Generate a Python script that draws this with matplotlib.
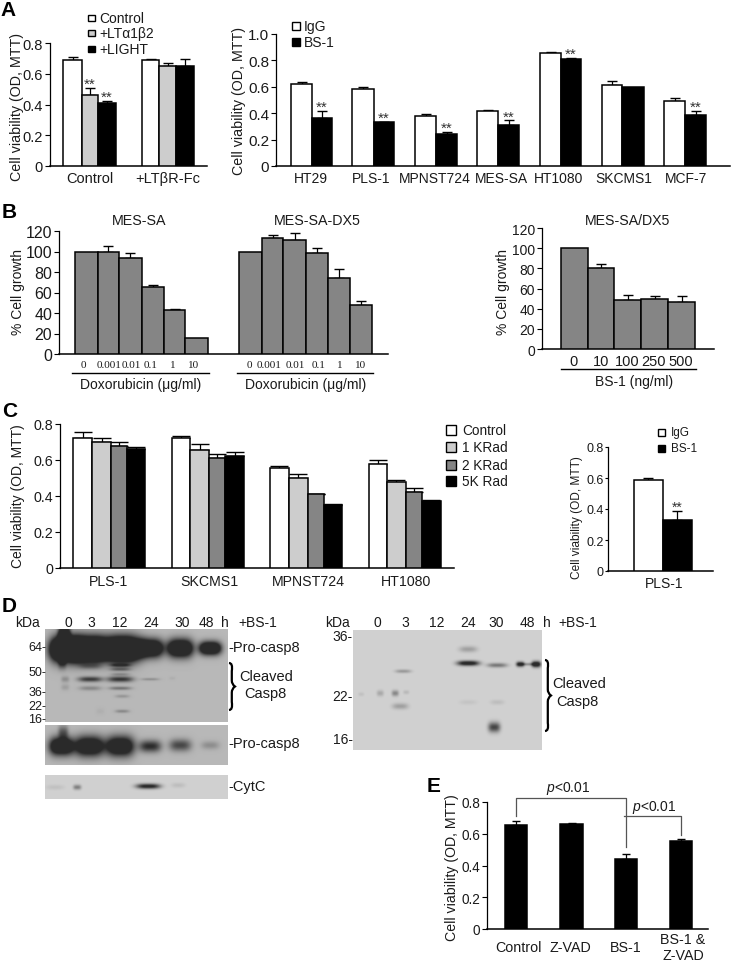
import numpy as np
import matplotlib
matplotlib.use('Agg')
import matplotlib.pyplot as plt
from matplotlib.path import Path
from matplotlib.patches import PathPatch

plt.rcParams['font.family'] = ['Liberation Sans', 'DejaVu Sans']
plt.rcParams['mathtext.fontset'] = 'custom'
plt.rcParams['mathtext.it'] = 'Liberation Sans:italic'
plt.rcParams['mathtext.rm'] = 'Liberation Sans'

W, H = 733, 962
WHITE, LIGHT, MID, BLACK = '#ffffff', '#cdcdcd', '#858585', '#000000'
TXT = '#1a1a1a'

# Panel A, left
a1_groups = ['Control', '+LT\u03b2R-Fc']
a1_values = [0.69, 0.46, 0.41, 0.69, 0.65, 0.65]
a1_err = [0.02, 0.05, 0.01, 0.005, 0.02, 0.045]
a1_stars = [False, True, True, False, False, False]
a1_legend = ['Control', '+LT\u03b11\u03b22', '+LIGHT']

# Panel A, right
a2_groups = ['HT29', 'PLS-1', 'MPNST724', 'MES-SA', 'HT1080', 'SKCMS1', 'MCF-7']
a2_igg = [0.62, 0.585, 0.38, 0.415, 0.855, 0.61, 0.495]
a2_igg_err = [0.02, 0.015, 0.015, 0.01, 0.005, 0.035, 0.02]
a2_bs1 = [0.365, 0.33, 0.24, 0.31, 0.81, 0.595, 0.39]
a2_bs1_err = [0.05, 0.005, 0.015, 0.035, 0.005, 0.0, 0.025]
a2_stars = [True, True, True, True, True, False, True]

# Panel B
b_doses = ['0', '0.001', '0.01', '0.1', '1', '10']
b1_values = [100, 100, 93.5, 65, 43, 16]
b1_err = [0, 5, 5.5, 2.5, 1, 0]
b2_values = [100, 113.5, 111, 99, 74, 48]
b2_err = [0, 2.5, 7.5, 4, 9, 4]
b3_doses = ['0', '10', '100', '250', '500']
b3_values = [100, 80, 48.5, 49.5, 46.5]
b3_err = [0, 4, 5.5, 3.5, 6.5]

# Panel C
c1_groups = ['PLS-1', 'SKCMS1', 'MPNST724', 'HT1080']
c1_values = [0.72, 0.70, 0.68, 0.66,
             0.72, 0.655, 0.61, 0.625,
             0.555, 0.50, 0.41, 0.35,
             0.58, 0.48, 0.42, 0.37]
c1_err = [0.035, 0.025, 0.02, 0.01,
          0.015, 0.035, 0.025, 0.02,
          0.01, 0.025, 0.002, 0.005,
          0.02, 0.01, 0.025, 0.01]
c1_legend = ['Control', '1 KRad', '2 KRad', '5K Rad']
c2_values = [0.585, 0.33]
c2_err = [0.015, 0.055]

# Panel E
e_labels = ['Control', 'Z-VAD', 'BS-1', 'BS-1 &\nZ-VAD']
e_values = [0.655, 0.66, 0.44, 0.555]
e_err = [0.025, 0.005, 0.035, 0.015]

# Blot bands: x, y, half width, half height, darkness
blot1_bands = [(65, 650, 15, 12, 3.0), (90, 650, 16, 12, 3.0), (122, 650, 18, 12, 3.0),
               (150, 649, 13, 9, 2.0), (180, 649, 13, 9, 2.0), (210, 649, 11, 6.5, 2.0),
               (64, 634, 6, 9, 1.3), (62, 664, 4, 6, 0.5), (90, 667, 11, 3, 0.35),
               (120, 666, 10, 1.7, 0.65), (120, 670, 10, 1.7, 0.5), (65, 680, 4, 3, 0.3),
               (90, 680, 12, 2.6, 0.9), (120, 680, 13, 2.8, 0.95), (120, 675, 9, 1.4, 0.3),
               (150, 680, 9, 1.3, 0.3), (172, 679, 3, 1.5, 0.07), (65, 688, 4, 3, 0.18),
               (90, 689, 11, 2.2, 0.35), (120, 689, 11, 1.7, 0.5), (122, 697, 7, 1.6, 0.25),
               (122, 712, 7, 1.6, 0.35), (100, 712, 4, 3, 0.06)]
blot2_bands = [(61, 747, 12, 9, 1.8), (89, 747, 15, 10, 1.7), (120, 747, 14, 10, 1.7),
               (150, 747, 11, 6, 1.0), (180, 746, 11, 6, 0.8), (210, 746, 9, 4, 0.3),
               (63, 733, 5, 7, 0.6)]
blot3_bands = [(148, 787, 12, 2.5, 1.1), (77, 788, 4, 2.5, 0.5), (55, 788, 9, 2.5, 0.1),
               (178, 786, 7, 2.5, 0.12)]
blot4_bands = [(468, 664, 11, 2.5, 1.2), (468, 650, 9, 3, 0.3), (497, 666, 10, 2.2, 0.55),
               (520, 665, 4, 2.5, 1.1), (536, 665, 4.5, 3, 1.3), (528, 665, 9, 1.4, 0.4),
               (403, 672, 8, 1.8, 0.35), (380, 694, 3.5, 3, 0.25), (395, 694, 3.5, 3, 0.45),
               (406, 693, 3, 2, 0.15), (400, 707, 8, 3, 0.3), (361, 695, 3, 2, 0.1),
               (494, 728, 6, 5, 0.85), (468, 703, 9, 2.5, 0.08), (497, 703, 7, 2.5, 0.12)]

fig = plt.figure(figsize=(W / 100, H / 100), dpi=100)
over = fig.add_axes([0, 0, 1, 1], zorder=5)
over.set_xlim(0, W)
over.set_ylim(H, 0)
over.axis('off')
over.patch.set_alpha(0)


def text(x, y, s, size=9.5, ha='center', va='center', **kw):
    kw.setdefault('color', TXT)
    over.text(x, y, s, fontsize=size, ha=ha, va=va, **kw)


def panel(x0, x1, y_zero, y_top, ymax, yticks, size):
    ax = fig.add_axes([x0 / W, 1 - y_zero / H, (x1 - x0) / W, (y_zero - y_top) / H])
    ax.set_xlim(x0, x1)
    ax.set_ylim(0, ymax)
    ax.spines['top'].set_visible(False)
    ax.spines['right'].set_visible(False)
    ax.spines['left'].set_linewidth(0.9)
    ax.spines['bottom'].set_linewidth(1.1)
    ax.set_yticks(yticks)
    labels = ['0' if t == 0 else (str(t) if isinstance(t, int) else '%.1f' % t) for t in yticks]
    ax.set_yticklabels(labels, fontsize=size, color=TXT)
    ax.tick_params(axis='y', length=3.5, width=0.8, pad=1.5)
    ax.tick_params(axis='x', length=0, pad=3.5)
    ax.patch.set_alpha(0)
    return ax


def bars(ax, edges, values, err, colors, cap=3.5, lw=1.1):
    # edges: left edge of every bar, plus a right edge for the last
    for i in range(len(values)):
        left, right = edges[i], edges[i + 1]
        ax.bar(left, values[i], width=right - left, align='edge', color=colors[i],
               edgecolor='black', linewidth=lw, zorder=3)
        if err[i] > 0:
            ax.errorbar((left + right) / 2, values[i], yerr=[[0], [err[i]]], color='black',
                        capsize=cap, elinewidth=0.9, capthick=1.0, zorder=2)


def stars(ax, x, top, dy=3, size=11):
    ax.annotate('**', (x, top), xytext=(0, dy), textcoords='offset points', ha='center',
                va='center', fontsize=size, color='#333333', zorder=6)


def square(x, y, size, color):
    over.fill([x, x + size, x + size, x], [y - size / 2, y - size / 2, y + size / 2, y + size / 2],
              facecolor=color, edgecolor='black', linewidth=1.0)


def blot(x0, x1, y0, y1, bands, bg):
    ax = fig.add_axes([x0 / W, 1 - y1 / H, (x1 - x0) / W, (y1 - y0) / H], zorder=1)
    xs, ys = np.meshgrid(np.arange(x0, x1, 0.5), np.arange(y0, y1, 0.5))
    dark = np.zeros_like(xs)
    for bx, by, sx, sy, d in bands:
        dark += d * np.exp(-np.abs((xs - bx) / sx) ** 3 - ((ys - by) / sy) ** 2)
    img = bg - (bg - 0.17) * np.clip(dark, 0, 1)
    ax.imshow(img, cmap='gray', vmin=0, vmax=1, extent=[x0, x1, y1, y0], aspect='auto',
              interpolation='bilinear')
    ax.axis('off')


def brace(x, y0, y1, w):
    m = (y0 + y1) / 2
    verts = [(x, y0), (x + w, y0), (x + w * 0.7, y0 + 8), (x + w * 0.7, m - 6), (x + w * 0.7, m - 2),
             (x + w * 1.5, m), (x + w * 0.7, m + 2), (x + w * 0.7, m + 6), (x + w * 0.7, y1 - 8),
             (x + w, y1), (x, y1)]
    codes = [Path.MOVETO, Path.CURVE3, Path.CURVE3, Path.LINETO, Path.CURVE3, Path.CURVE3,
             Path.CURVE3, Path.CURVE3, Path.LINETO, Path.CURVE3, Path.CURVE3]
    over.add_patch(PathPatch(Path(verts, codes), facecolor='none', edgecolor='black', linewidth=1.6))


# A left
ax = panel(50, 207, 167, 44, 0.8, [0, 0.2, 0.4, 0.6, 0.8], 10.5)
edges = [63, 82, 98, 116]
bars(ax, edges, a1_values[:3], a1_err[:3], [WHITE, LIGHT, BLACK])
edges2 = [142, 159, 176, 194]
bars(ax, edges2, a1_values[3:], a1_err[3:], [WHITE, LIGHT, BLACK])
ax.set_xticks([90, 168])
ax.set_xticklabels(a1_groups, fontsize=10.5, color=TXT)
for i in range(3):
    if a1_stars[i]:
        stars(ax, (edges[i] + edges[i + 1]) / 2, a1_values[i] + a1_err[i])
text(17, 107, 'Cell viability (OD, MTT)', 10.3, rotation=90)
for name, y, col in zip(a1_legend, [19, 34, 50], [WHITE, LIGHT, BLACK]):
    square(88, y, 6.5, col)
    text(99, y, name, 10, ha='left')

# A right
ax = panel(276, 730, 167, 35, 1.0, [0, 0.2, 0.4, 0.6, 0.8, 1.0], 11)
a2_left = [291, 352, 415, 477, 540, 602, 664]
a2_mid = [312, 374, 436, 498, 561, 622, 685]
a2_right = [332, 394, 457, 519, 581, 644, 706]
for i in range(len(a2_groups)):
    bars(ax, [a2_left[i], a2_mid[i], a2_right[i]], [a2_igg[i], a2_bs1[i]],
         [a2_igg_err[i], a2_bs1_err[i]], [WHITE, BLACK])
    if a2_stars[i]:
        stars(ax, (a2_mid[i] + a2_right[i]) / 2, a2_bs1[i] + a2_bs1_err[i])
ax.set_xticks([311, 371, 435, 501, 559, 624, 686])
ax.set_xticklabels(a2_groups, fontsize=10, color=TXT)
text(239, 101, 'Cell viability (OD, MTT)', 10.3, rotation=90)
for name, y, col in zip(['IgG', 'BS-1'], [27, 43], [WHITE, BLACK]):
    square(292, y, 8, col)
    text(304, y, name, 10, ha='left')

# B
ax = panel(59, 388, 355, 232, 120, [0, 20, 40, 60, 80, 100, 120], 11.5)
b_edges = [75, 97.5, 119, 141.6, 164, 185, 208]
b_edges2 = [239, 262, 283, 306, 328, 350, 372]
grey6 = [MID] * 6
bars(ax, b_edges, b1_values, b1_err, grey6, cap=3.5)
bars(ax, b_edges2, b2_values, b2_err, grey6, cap=3.5)
ax.set_xticks([])
for dose, x in zip(b_doses + b_doses, [83, 109, 131, 151, 173, 194, 249, 269, 295, 319, 340, 361]):
    text(x, 366, dose, 8, family=['Liberation Serif'])
over.plot([72, 209], [374, 374], color='black', lw=1.0)
over.plot([237, 373], [374, 374], color='black', lw=1.0)
text(141, 385, 'Doxorubicin (\u03bcg/ml)', 10)
text(306, 385, 'Doxorubicin (\u03bcg/ml)', 10)
text(139, 221, 'MES-SA', 10.3)
text(317, 221, 'MES-SA-DX5', 10.3)
text(18, 292, '% Cell growth', 10, rotation=90)

ax = panel(542, 714, 350, 229, 120, [0, 20, 40, 60, 80, 100, 120], 10)
b3_edges = [561, 588, 614, 641, 668, 695]
bars(ax, b3_edges, b3_values, b3_err, [MID] * 5, cap=3.5)
ax.set_xticks([574, 601, 627, 654, 681])
ax.set_xticklabels(b3_doses, fontsize=10.5, color=TXT)
over.plot([561, 696], [370, 370], color='black', lw=1.0)
text(634, 382, 'BS-1 (ng/ml)', 10)
text(628, 221, 'MES-SA/DX5', 10.2)
text(503, 292, '% Cell growth', 10, rotation=90)

# C
ax = panel(60, 454, 569, 425, 0.8, [0, 0.2, 0.4, 0.6, 0.8], 10.3)
c_edges = [[73, 92, 111, 127, 145], [172, 190, 209, 225, 244],
           [270, 289, 308, 324, 342], [369, 387, 406, 422, 441]]
c_colors = [WHITE, LIGHT, MID, BLACK]
for i in range(4):
    bars(ax, c_edges[i], c1_values[i * 4:i * 4 + 4], c1_err[i * 4:i * 4 + 4], c_colors, cap=6.5)
ax.set_xticks([109, 209, 308, 406])
ax.set_xticklabels(c1_groups, fontsize=10.2, color=TXT)
ax.tick_params(axis='x', pad=4.5)
text(18, 496, 'Cell viability (OD, MTT)', 10, rotation=90)
for name, y, col in zip(c1_legend, [431, 448, 466, 482], c_colors):
    square(446, y, 10, col)
    text(462, y, name, 9.8, ha='left')

ax = panel(608, 713, 572, 448, 0.8, [0, 0.2, 0.4, 0.6, 0.8], 9)
ax.tick_params(axis='y', length=2.5, pad=0.5)
c2_edges = [634, 663, 692]
bars(ax, c2_edges, c2_values, c2_err, [WHITE, BLACK], cap=3.5)
stars(ax, 677, c2_values[1] + c2_err[1], size=10)
ax.set_xticks([664])
ax.set_xticklabels(['PLS-1'], fontsize=10, color=TXT)
text(577, 518, 'Cell viability (OD, MTT)', 8.6, rotation=90)
for name, y, col in zip(['IgG', 'BS-1'], [433, 449], [WHITE, BLACK]):
    square(658, y, 7, col)
    text(671, y, name, 8.5, ha='left')

# D
blot(45, 228, 630, 723, blot1_bands, 0.72)
blot(45, 228, 726, 766, blot2_bands, 0.72)
blot(45, 228, 776, 800, blot3_bands, 0.82)
blot(353, 542, 631, 751, blot4_bands, 0.82)

d_labels = ['kDa', '0', '3', '12', '24', '30', '48', 'h', '+BS-1']
for s, x in zip(d_labels, [28, 68, 91, 120, 151, 182, 206, 225, 258]):
    text(x, 623, s, 10)
for s, x in zip(d_labels, [338, 377, 405, 437, 468, 496, 527, 547, 578]):
    text(x, 623, s, 10)
for s, y in zip(['64-', '50-', '36-', '22-', '16-'], [648, 673, 693, 707, 720]):
    text(46, y, s, 9, ha='right')
for s, y in zip(['36-', '22-', '16-'], [637, 697, 740]):
    text(353, y, s, 10, ha='right')
text(228, 648, '-Pro-casp8', 10.5, ha='left')
text(228, 744, '-Pro-casp8', 10.5, ha='left')
text(228, 787, '-CytC', 10.5, ha='left')
text(266, 677, 'Cleaved', 10.5)
text(265, 694, 'Casp8', 10.5)
text(579, 684, 'Cleaved', 10.5)
text(577, 702, 'Casp8', 10.5)
brace(229, 664, 711, 4)
brace(545, 661, 732, 4)

# E
ax = panel(487, 708, 930, 803, 0.8, [0, 0.2, 0.4, 0.6, 0.8], 9.8)
e_left = [505, 560, 615, 670]
e_right = [527, 583, 637, 692]
for i in range(4):
    bars(ax, [e_left[i], e_right[i]], [e_values[i]], [e_err[i]], [BLACK], cap=3)
ax.set_xticks([518, 570, 626, 683])
ax.set_xticklabels(e_labels, fontsize=10.3, color=TXT, linespacing=1.15)
for lab in ax.get_xticklabels():
    lab.set_verticalalignment('center')
ax.tick_params(axis='x', pad=13)
text(452, 868, 'Cell viability (OD, MTT)', 10.2, rotation=90)
over.plot([516, 516, 626, 626], [817, 799, 799, 848], color='#555555', lw=0.9)
over.plot([624, 681, 681], [817, 817, 836], color='#555555', lw=0.9)
text(568, 789, '$\\mathit{p}$<0.01', 10)
text(654, 808, '$\\mathit{p}$<0.01', 10)

# panel letters
for s, x, y in [('A', 0, 10), ('B', 2, 213), ('C', 2, 412), ('D', 2, 607), ('E', 427, 787)]:
    text(x, y, s, 15, ha='left', fontweight='bold', color='black')

fig.savefig('out.png', dpi=100)
